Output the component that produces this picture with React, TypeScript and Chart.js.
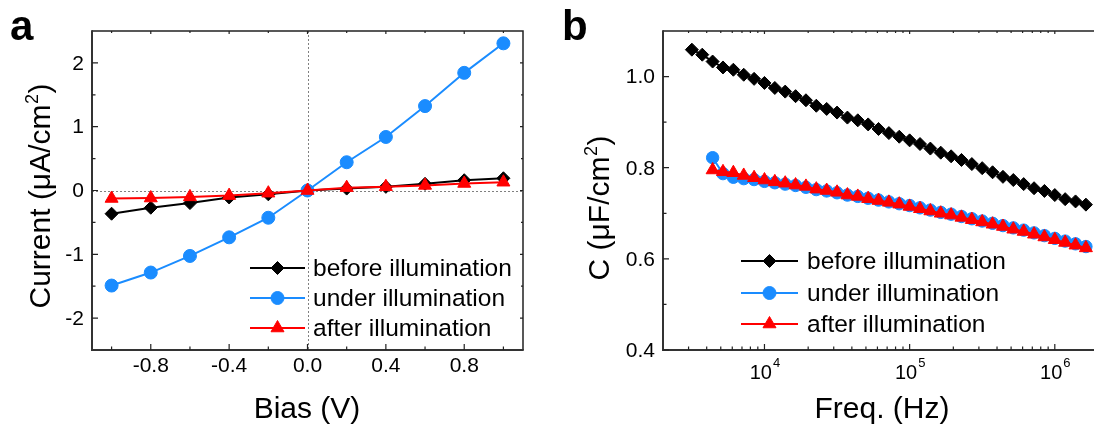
import React, { useEffect, useRef } from 'react';
import { Chart, registerables } from 'chart.js';
Chart.register(...registerables);

const FONT = '"Liberation Sans", Arial, Helvetica, sans-serif';

// ---------- Panel a : I-V ----------
const biasV = [-1.0, -0.8, -0.6, -0.4, -0.2, 0.0, 0.2, 0.4, 0.6, 0.8, 1.0];
const iBefore = [-0.364, -0.27, -0.197, -0.109, -0.06, 0.0, 0.03, 0.057, 0.104, 0.161, 0.192];
const iUnder = [-1.49, -1.286, -1.026, -0.734, -0.427, 0.0, 0.443, 0.839, 1.323, 1.844, 2.307];
const iAfter = [-0.125, -0.118, -0.1, -0.08, -0.042, 0.0, 0.045, 0.06, 0.08, 0.11, 0.13];

const biasMajorTicks = [-0.8, -0.4, 0.0, 0.4, 0.8];
const biasTickLabels = ['-0.8', '-0.4', '0.0', '0.4', '0.8'];
const biasMinorTicks = [-1.0, -0.6, -0.2, 0.2, 0.6, 1.0];
const currentMajorTicks = [-2, -1, 0, 1, 2];
const currentTickLabels = ['-2', '-1', '0', '1', '2'];
const currentMinorTicks = [-1.5, -0.5, 0.5, 1.5];

// ---------- Panel b : C-f ----------
const freqHz = [
  3162, 3728, 4394, 5179, 6105, 7197, 8483, 10000, 11788, 13895, 16379, 19307, 22758,
  26827, 31623, 37276, 43940, 51795, 61054, 71969, 84834, 100000, 117877, 138950,
  163789, 193070, 227585, 268270, 316228, 372759, 439397, 517947, 610540, 719686,
  848343, 1000000, 1178769, 1389495, 1637894,
];
const cBefore = [
  1.059, 1.048, 1.033, 1.02, 1.015, 1.004, 0.995, 0.986, 0.975, 0.967, 0.957, 0.948, 0.936,
  0.929, 0.921, 0.91, 0.904, 0.895, 0.885, 0.876, 0.868, 0.86, 0.852, 0.842, 0.833, 0.825,
  0.817, 0.808, 0.799, 0.79, 0.78, 0.773, 0.764, 0.755, 0.749, 0.74, 0.731, 0.726, 0.719,
];
// under / after start at the third frequency (freqHz[2])
const cUnder = [
  0.822, 0.787, 0.779, 0.776, 0.774, 0.77, 0.767, 0.764, 0.761, 0.757, 0.752, 0.749, 0.745,
  0.74, 0.737, 0.733, 0.729, 0.725, 0.721, 0.717, 0.712, 0.707, 0.702, 0.698, 0.693, 0.688,
  0.683, 0.678, 0.673, 0.668, 0.663, 0.657, 0.651, 0.645, 0.639, 0.633, 0.627,
];
const cAfter = [
  0.795, 0.791, 0.789, 0.783, 0.778, 0.773, 0.769, 0.766, 0.762, 0.759, 0.753, 0.75, 0.746,
  0.74, 0.737, 0.732, 0.728, 0.724, 0.72, 0.715, 0.71, 0.705, 0.7, 0.696, 0.691, 0.686,
  0.681, 0.676, 0.671, 0.665, 0.66, 0.654, 0.648, 0.642, 0.636, 0.63, 0.624,
];

const freqMajorTicks = [1e4, 1e5, 1e6];
const freqTickExps = ['4', '5', '6'];
const freqMinorTicks = [
  3000, 4000, 5000, 6000, 7000, 8000, 9000,
  20000, 30000, 40000, 50000, 60000, 70000, 80000, 90000,
  200000, 300000, 400000, 500000, 600000, 700000, 800000, 900000,
];
const capMajorTicks = [0.4, 0.6, 0.8, 1.0];
const capTickLabels = ['0.4', '0.6', '0.8', '1.0'];
const capMinorTicks = [0.5, 0.7, 0.9];

const seriesNames = ['before illumination', 'under illumination', 'after illumination'];
const BLACK = '#000000';
const BLUE = '#1a8cff';
const RED = '#ff0000';

function drawMarker(ctx: CanvasRenderingContext2D, shape: string, x: number, y: number, r: number, color: string) {
  ctx.save();
  ctx.fillStyle = color;
  ctx.strokeStyle = color;
  ctx.lineWidth = 1;
  ctx.beginPath();
  if (shape === 'circle') {
    ctx.arc(x, y, r, 0, Math.PI * 2);
  } else if (shape === 'rectRot') {
    ctx.moveTo(x, y - r);
    ctx.lineTo(x + r, y);
    ctx.lineTo(x, y + r);
    ctx.lineTo(x - r, y);
    ctx.closePath();
  } else {
    for (let i = 0; i < 3; i++) {
      const a = (i * 2 * Math.PI) / 3;
      const px = x + Math.sin(a) * r;
      const py = y - Math.cos(a) * r;
      if (i === 0) ctx.moveTo(px, py);
      else ctx.lineTo(px, py);
    }
    ctx.closePath();
  }
  ctx.fill();
  ctx.stroke();
  ctx.restore();
}

type Spec = {
  xMajor: number[]; xLabels: string[]; xSup?: string[]; xMinor: number[]; xLabelY: number;
  yMajor: number[]; yLabels: string[]; yMinor: number[];
  xTitle: string; xTitleX: number; xTitleY: number;
  yTitle: [string, string, string]; yTitleX: number; yTitleY: number;
  panel: string; panelX: number; panelY: number;
  legend: { x1: number; x2: number; tx: number; ys: number[] };
  legendItems: { label: string; color: string; shape: string; r: number }[];
  zeroLines?: boolean;
};

function makePlugin(spec: Spec) {
  return {
    id: 'frame',
    beforeDatasetsDraw(chart: any) {
      if (!spec.zeroLines) return;
      const { left, right, top, bottom } = chart.chartArea;
      const ctx = chart.ctx as CanvasRenderingContext2D;
      const x0 = chart.scales.x.getPixelForValue(0);
      const y0 = chart.scales.y.getPixelForValue(0);
      ctx.save();
      ctx.strokeStyle = '#808080';
      ctx.lineWidth = 1;
      ctx.setLineDash([2, 2]);
      ctx.beginPath();
      ctx.moveTo(Math.round(x0) + 0.5, top);
      ctx.lineTo(Math.round(x0) + 0.5, bottom);
      ctx.moveTo(left, Math.round(y0) + 0.5);
      ctx.lineTo(right, Math.round(y0) + 0.5);
      ctx.stroke();
      ctx.restore();
    },
    afterDraw(chart: any) {
      const { left, right, top, bottom } = chart.chartArea;
      const ctx = chart.ctx as CanvasRenderingContext2D;
      const xs = chart.scales.x;
      const ys = chart.scales.y;
      ctx.save();
      // frame
      ctx.strokeStyle = '#222222';
      ctx.lineWidth = 1.5;
      ctx.beginPath();
      ctx.moveTo(left, top);
      ctx.lineTo(right, top);
      ctx.lineTo(right, bottom);
      ctx.stroke();
      ctx.lineWidth = 2;
      ctx.strokeStyle = '#333333';
      ctx.beginPath();
      ctx.moveTo(left, top - 0.75);
      ctx.lineTo(left, bottom);
      ctx.lineTo(right + 0.75, bottom);
      ctx.stroke();
      // ticks
      ctx.lineWidth = 1.2;
      ctx.strokeStyle = '#222222';
      ctx.beginPath();
      const tx = (v: number, lb: number, lt: number) => {
        const p = xs.getPixelForValue(v);
        ctx.moveTo(p, bottom);
        ctx.lineTo(p, bottom - lb);
        ctx.moveTo(p, top);
        ctx.lineTo(p, top + lt);
      };
      const ty = (v: number, ll: number, lr: number) => {
        const p = ys.getPixelForValue(v);
        ctx.moveTo(left, p);
        ctx.lineTo(left + ll, p);
        ctx.moveTo(right, p);
        ctx.lineTo(right - lr, p);
      };
      spec.xMajor.forEach((v) => tx(v, 6, 3));
      spec.xMinor.forEach((v) => tx(v, 3.5, 2));
      spec.yMajor.forEach((v) => ty(v, 6, 3));
      spec.yMinor.forEach((v) => ty(v, 3.5, 2));
      ctx.stroke();

      // tick labels
      ctx.fillStyle = '#000000';
      ctx.font = `21px ${FONT}`;
      ctx.textBaseline = 'middle';
      ctx.textAlign = 'right';
      spec.yMajor.forEach((v, i) => {
        ctx.fillText(spec.yLabels[i], left - 8, ys.getPixelForValue(v) + 1);
      });
      spec.xMajor.forEach((v, i) => {
        const p = xs.getPixelForValue(v);
        if (spec.xSup) {
          ctx.font = `20px ${FONT}`;
          const wb = ctx.measureText(spec.xLabels[i]).width;
          ctx.font = `13px ${FONT}`;
          const ws = ctx.measureText(spec.xSup[i]).width;
          const sx = p - (wb + ws) / 2;
          ctx.textAlign = 'left';
          ctx.font = `20px ${FONT}`;
          ctx.fillText(spec.xLabels[i], sx, spec.xLabelY);
          ctx.font = `13px ${FONT}`;
          ctx.fillText(spec.xSup[i], sx + wb + 1, spec.xLabelY - 10);
        } else {
          ctx.textAlign = 'center';
          ctx.fillText(spec.xLabels[i], p, spec.xLabelY);
        }
      });

      // axis titles
      ctx.textBaseline = 'alphabetic';
      ctx.textAlign = 'center';
      ctx.font = `30px ${FONT}`;
      ctx.fillText(spec.xTitle, spec.xTitleX, spec.xTitleY);

      ctx.save();
      ctx.translate(spec.yTitleX, spec.yTitleY);
      ctx.rotate(-Math.PI / 2);
      ctx.textAlign = 'left';
      ctx.font = `30px ${FONT}`;
      const w1 = ctx.measureText(spec.yTitle[0]).width;
      const w3 = ctx.measureText(spec.yTitle[2]).width;
      ctx.font = `18px ${FONT}`;
      const w2 = ctx.measureText(spec.yTitle[1]).width;
      const start = -(w1 + w2 + w3 + 1) / 2;
      ctx.font = `30px ${FONT}`;
      ctx.fillText(spec.yTitle[0], start, 0);
      ctx.fillText(spec.yTitle[2], start + w1 + w2 + 1, 0);
      ctx.font = `18px ${FONT}`;
      ctx.fillText(spec.yTitle[1], start + w1 + 0.5, -12);
      ctx.restore();

      // panel letter
      ctx.font = `bold 42px ${FONT}`;
      ctx.textAlign = 'left';
      ctx.fillText(spec.panel, spec.panelX, spec.panelY);

      // legend
      const L = spec.legend;
      spec.legendItems.forEach((it, i) => {
        const y = L.ys[i];
        ctx.strokeStyle = it.color;
        ctx.lineWidth = 2;
        ctx.beginPath();
        ctx.moveTo(L.x1, y);
        ctx.lineTo(L.x2, y);
        ctx.stroke();
        drawMarker(ctx, it.shape, (L.x1 + L.x2) / 2, y, it.r, it.color);
        ctx.fillStyle = '#000000';
        ctx.font = `24.5px ${FONT}`;
        ctx.textBaseline = 'middle';
        ctx.textAlign = 'left';
        ctx.fillText(it.label, L.tx, y + 1);
      });
      ctx.restore();
    },
  };
}

function ChartCanvas({ make, left, width, height }: { make: () => any; left: number; width: number; height: number }) {
  const ref = useRef<HTMLCanvasElement | null>(null);
  useEffect(() => {
    const chart = new Chart(ref.current as HTMLCanvasElement, make());
    return () => chart.destroy();
  }, []);
  return (
    <canvas
      ref={ref}
      width={width}
      height={height}
      style={{ position: 'absolute', left, top: 0, width, height }}
    />
  );
}

const lineDs = (label: string, data: any[], color: string, shape: string, r: number, order: number) => ({
  label,
  data,
  borderColor: color,
  backgroundColor: color,
  pointBackgroundColor: color,
  pointBorderColor: color,
  pointStyle: shape,
  pointRadius: r,
  pointBorderWidth: 1,
  borderWidth: 2,
  tension: 0,
  order,
});

function makeA() {
  const toXY = (ys: number[]) => biasV.map((x, i) => ({ x, y: ys[i] }));
  const spec: Spec = {
    xMajor: biasMajorTicks, xLabels: biasTickLabels, xMinor: biasMinorTicks, xLabelY: 366,
    yMajor: currentMajorTicks, yLabels: currentTickLabels, yMinor: currentMinorTicks,
    xTitle: 'Bias (V)', xTitleX: 307, xTitleY: 418,
    yTitle: ['Current (\u03bcA/cm', '2', ')'], yTitleX: 50, yTitleY: 196,
    panel: 'a', panelX: 10, panelY: 40,
    legend: { x1: 250, x2: 305, tx: 313, ys: [268, 298, 328] },
    legendItems: [
      { label: seriesNames[0], color: BLACK, shape: 'rectRot', r: 6.5 },
      { label: seriesNames[1], color: BLUE, shape: 'circle', r: 6.5 },
      { label: seriesNames[2], color: RED, shape: 'triangle', r: 7.5 },
    ],
    zeroLines: true,
  };
  return {
    type: 'line',
    data: {
      datasets: [
        lineDs(seriesNames[0], toXY(iBefore), BLACK, 'rectRot', 6.5, 3),
        lineDs(seriesNames[1], toXY(iUnder), BLUE, 'circle', 6.5, 2),
        lineDs(seriesNames[2], toXY(iAfter), RED, 'triangle', 7.5, 1),
      ],
    },
    options: {
      responsive: false,
      animation: false,
      events: [],
      devicePixelRatio: 1,
      layout: { padding: { left: 92, top: 31, right: 24, bottom: 77 } },
      plugins: { legend: { display: false }, tooltip: { enabled: false }, title: { display: false } },
      scales: {
        x: { type: 'linear', min: -1.1, max: 1.1, display: false },
        y: { type: 'linear', min: -2.5, max: 2.5, display: false },
      },
    },
    plugins: [makePlugin(spec)],
  };
}

const OFFSET_B = 547;
function makeB() {
  const o = OFFSET_B;
  const spec: Spec = {
    xMajor: freqMajorTicks, xLabels: freqMajorTicks.map(() => '10'), xSup: freqTickExps, xMinor: freqMinorTicks, xLabelY: 373,
    yMajor: capMajorTicks, yLabels: capTickLabels, yMinor: capMinorTicks,
    xTitle: 'Freq. (Hz)', xTitleX: 882 - o, xTitleY: 418,
    yTitle: ['C (\u03bcF/cm', '2', ')'], yTitleX: 609 - o, yTitleY: 208,
    panel: 'b', panelX: 562 - o, panelY: 40,
    legend: { x1: 741 - o, x2: 798 - o, tx: 807 - o, ys: [261, 293, 324] },
    legendItems: [
      { label: seriesNames[0], color: BLACK, shape: 'rectRot', r: 6.5 },
      { label: seriesNames[1], color: BLUE, shape: 'circle', r: 6.5 },
      { label: seriesNames[2], color: RED, shape: 'triangle', r: 7.5 },
    ],
  };
  const sub = freqHz.slice(2);
  return {
    type: 'line',
    data: {
      datasets: [
        lineDs(seriesNames[0], freqHz.map((x, i) => ({ x, y: cBefore[i] })), BLACK, 'rectRot', 6.5, 3),
        lineDs(seriesNames[1], sub.map((x, i) => ({ x, y: cUnder[i] })), BLUE, 'circle', 6.2, 2),
        lineDs(seriesNames[2], sub.map((x, i) => ({ x, y: cAfter[i] })), RED, 'triangle', 7.5, 1),
      ],
    },
    options: {
      responsive: false,
      animation: false,
      events: [],
      devicePixelRatio: 1,
      layout: { padding: { left: 116, top: 31, right: 8, bottom: 77 } },
      plugins: { legend: { display: false }, tooltip: { enabled: false }, title: { display: false } },
      scales: {
        x: { type: 'logarithmic', min: 2000, max: 2000000, display: false },
        y: { type: 'linear', min: 0.4, max: 1.1, display: false },
      },
    },
    plugins: [makePlugin(spec)],
  };
}

export default function App() {
  return (
    <div
      style={{
        position: 'fixed',
        left: 0,
        top: 0,
        width: 1094,
        height: 427,
        overflow: 'hidden',
        background: '#ffffff',
      }}
    >
      <ChartCanvas make={makeA} left={0} width={547} height={427} />
      <ChartCanvas make={makeB} left={OFFSET_B} width={560} height={427} />
    </div>
  );
}
